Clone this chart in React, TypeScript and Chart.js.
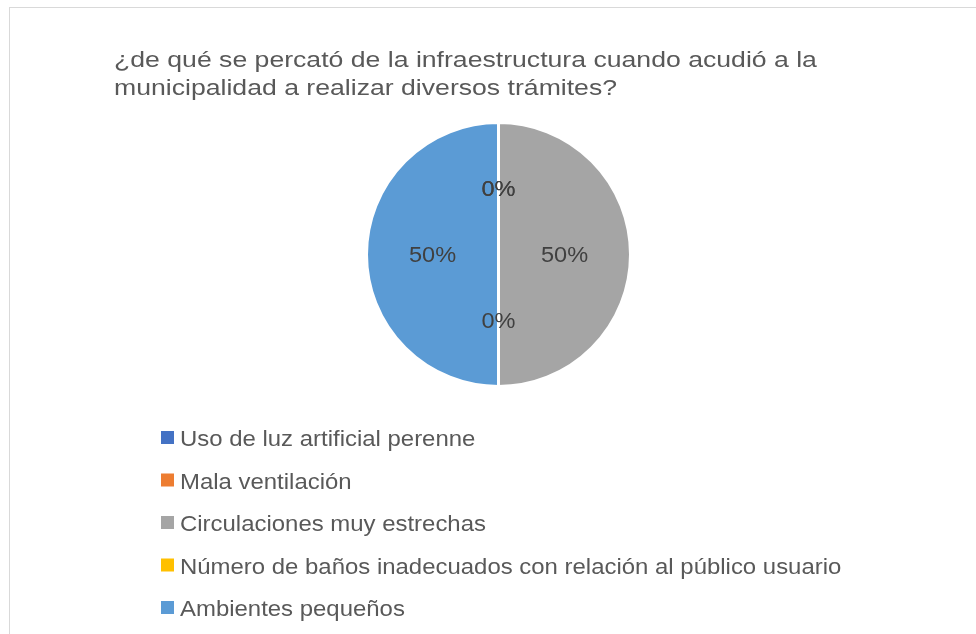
import React, { useEffect, useRef } from "react";
import { Chart, registerables } from "chart.js";

Chart.register(...registerables);

const titleLines = [
  "¿de qué se percató de la infraestructura cuando acudió a la",
  "municipalidad a realizar diversos trámites?",
];
const categories = [
  "Uso de luz artificial perenne",
  "Mala ventilación",
  "Circulaciones muy estrechas",
  "Número de baños inadecuados con relación al público usuario",
  "Ambientes pequeños",
];
const values = [0, 0, 50, 0, 50];
const colors = ["#4472C4", "#ED7D31", "#A5A5A5", "#FFC000", "#5B9BD5"];

const FONT = '"Liberation Sans", Arial, sans-serif';

function stretchedText(ctx: CanvasRenderingContext2D, text: string, x: number, y: number, sx: number) {
  ctx.save();
  ctx.translate(x, y);
  ctx.scale(sx, 1);
  ctx.fillText(text, 0, 0);
  ctx.restore();
}

const decorPlugin = {
  id: "decor",
  afterDraw(chart: any) {
    const ctx = chart.ctx as CanvasRenderingContext2D;
    ctx.save();
    // title
    ctx.fillStyle = "#595959";
    ctx.font = `22px ${FONT}`;
    ctx.textAlign = "left";
    ctx.textBaseline = "alphabetic";
    titleLines.forEach((t, i) => stretchedText(ctx, t, 114, 67 + i * 28, 1.21));

    // data labels
    const meta = chart.getDatasetMeta(0);
    const data = chart.data.datasets[0].data as number[];
    const total = data.reduce((a, b) => a + b, 0);
    ctx.font = `22px ${FONT}`;
    ctx.fillStyle = "#404040";
    ctx.textAlign = "center";
    ctx.textBaseline = "middle";
    meta.data.forEach((arc: any, i: number) => {
      const p = arc.getCenterPoint();
      const pct = Math.round((data[i] / total) * 100);
      stretchedText(ctx, pct + "%", p.x, p.y + 1, 1.07);
    });

    // legend
    ctx.font = `22px ${FONT}`;
    ctx.textAlign = "left";
    ctx.textBaseline = "alphabetic";
    const labels = chart.data.labels as string[];
    labels.forEach((lab, i) => {
      const base = 446 + i * 42.5;
      ctx.fillStyle = (chart.data.datasets[0].backgroundColor as string[])[i];
      ctx.fillRect(161, base - 15, 13, 13);
      ctx.fillStyle = "#595959";
      stretchedText(ctx, lab, 180, base, 1.088);
    });
    ctx.restore();
  },
};

export default function App() {
  const ref = useRef<HTMLCanvasElement>(null);
  useEffect(() => {
    document.documentElement.style.overflow = "hidden";
    document.body.style.overflow = "hidden";
    document.body.style.margin = "0";
    const chart = new Chart(ref.current!, {
      type: "pie",
      data: {
        labels: categories,
        datasets: [
          {
            data: values,
            backgroundColor: colors,
            borderColor: "#ffffff",
            borderWidth: 3,
          },
        ],
      },
      options: {
        responsive: false,
        animation: false,
        rotation: 0,
        layout: { padding: { top: 121, bottom: 246, left: 299, right: 278 } },
        plugins: {
          legend: { display: false },
          title: { display: false },
          tooltip: { enabled: false },
        },
      },
      plugins: [decorPlugin],
    });
    return () => chart.destroy();
  }, []);
  return (
    <div style={{ position: "relative", width: 976, height: 634, background: "#fff", overflow: "hidden" }}>
      <div
        style={{
          position: "absolute",
          left: 9,
          top: 7,
          width: 1000,
          height: 700,
          border: "1px solid #d9d9d9",
        }}
      />
      <canvas ref={ref} width={976} height={634} style={{ position: "absolute", left: 0, top: 0 }} />
    </div>
  );
}
